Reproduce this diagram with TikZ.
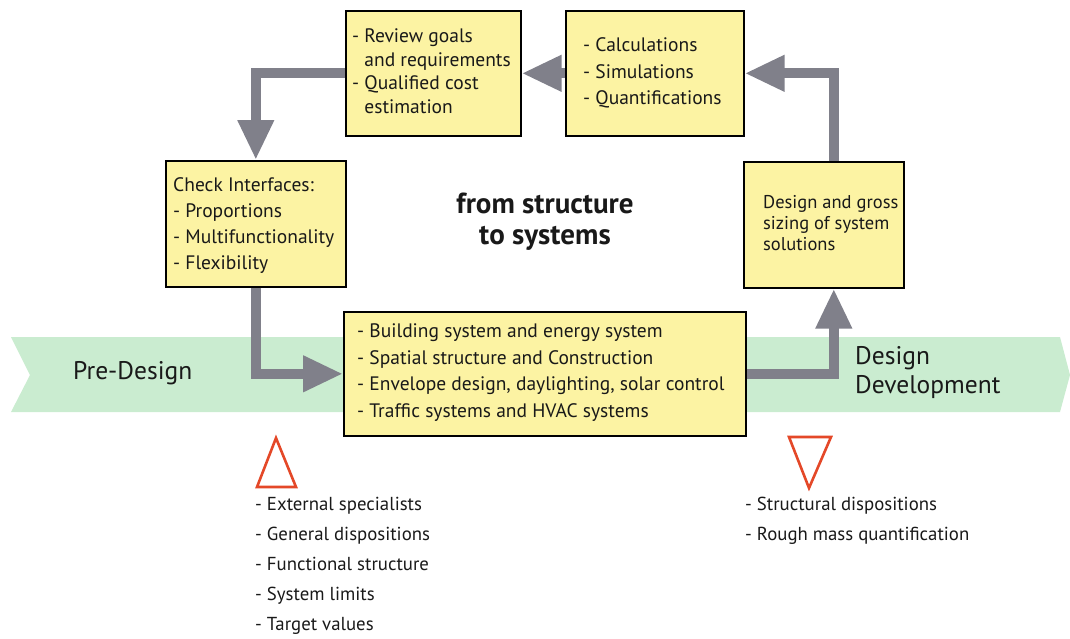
\documentclass[tikz,border=0pt]{standalone}
\usepackage{fontspec}
\setmainfont{PT Sans}
\usetikzlibrary{arrows.meta}
\definecolor{bandgreen}{RGB}{202,236,208}
\definecolor{boxyellow}{RGB}{252,243,163}
\definecolor{arrgrey}{RGB}{128,128,138}
\definecolor{trired}{RGB}{228,72,40}
\definecolor{txt}{RGB}{25,25,25}
\tikzset{
  ybox/.style={draw=black, line width=1.6pt, fill=boxyellow, anchor=north west, inner sep=0pt},
  btxt/.style={align=left, anchor=west, inner sep=0pt, text=txt},
  arr/.style={draw=arrgrey, line width=10pt, -{Triangle[length=40pt,width=34pt]}},
  tri/.style={draw=trired, line width=2.6pt, line join=miter},
  lbl/.style={font=\fontsize{18.8}{30}\selectfont, align=left, anchor=north west, inner sep=0pt, text=txt}
}
\begin{document}
\begin{tikzpicture}[x=1pt,y=-1pt]
\useasboundingbox (0,0) rectangle (1070,638);
% band
\fill[bandgreen] (11,337) -- (1060,337) -- (1070,375) -- (1060,412) -- (11,412) -- (30,375) -- cycle;
\node[anchor=west, font=\fontsize{25.5}{28}\selectfont, text=txt, inner sep=0pt] (pre) at (73,373) {Pre-Design};
\node[anchor=west, align=left, font=\fontsize{25.5}{29}\selectfont, text=txt, inner sep=0pt] (dev) at (855,373) {Design\\Development};
% boxes
\node[ybox, minimum width=175pt, minimum height=125pt] (rev) at (345,10) {};
\node[btxt, font=\fontsize{19.5}{23.5}\selectfont] (revt) at ([xshift=7pt,yshift=2pt]rev.west)
  {- Review goals\\\phantom{- }and requirements\\- Qualified cost\\\phantom{- }estimation};
\node[ybox, minimum width=178pt, minimum height=125pt] (calc) at (565,10) {};
\node[btxt, font=\fontsize{19.5}{26.5}\selectfont] (calct) at ([xshift=18pt]calc.west)
  {- Calculations\\- Simulations\\- Quantifications};
\node[ybox, minimum width=180pt, minimum height=126pt] (chk) at (165,160) {};
\node[btxt, font=\fontsize{19.5}{26}\selectfont] (chkt) at ([xshift=8pt,yshift=-2pt]chk.west)
  {Check Interfaces:\\- Proportions\\- Multifunctionality\\- Flexibility};
\node[ybox, minimum width=160pt, minimum height=126pt] (des) at (743,161) {};
\node[btxt, font=\fontsize{18.5}{21}\selectfont] (dest) at ([xshift=20pt,yshift=2pt]des.west)
  {Design and gross\\sizing of system\\solutions};
\node[ybox, minimum width=402pt, minimum height=124pt] (ctr) at (343,311) {};
\node[btxt, font=\fontsize{19.5}{26.5}\selectfont] (ctrt) at ([xshift=14pt,yshift=1pt]ctr.west)
  {- Building system and energy system\\- Spatial structure and Construction\\- Envelope design, daylighting, solar control\\- Traffic systems and HVAC systems};
% title
\node[font=\bfseries\fontsize{29}{31}\selectfont, align=center, text=txt] (title) at (545,222) {from structure\\to systems};
% arrows
\draw[arr] (rev.west) -| (chk.north);
\draw[arr] (calc.west) -- (rev.east);
\draw[arr] ([xshift=10pt]des.north) |- (calc.east);
\draw[arr] (chk.south) |- (ctr.west);
\draw[arr] (ctr.east) -| ([xshift=10pt]des.south);
% triangles
\draw[tri] (276,438) -- (296,487) -- (257,487) -- cycle;
\draw[tri] (789,437) -- (831,437) -- (809,488) -- cycle;
\node[lbl] (llist) at (255,497) {- External specialists\\- General dispositions\\- Functional structure\\- System limits\\- Target values};
\node[lbl] (rlist) at (745,497) {- Structural dispositions\\- Rough mass quantification};
\end{tikzpicture}
\end{document}
